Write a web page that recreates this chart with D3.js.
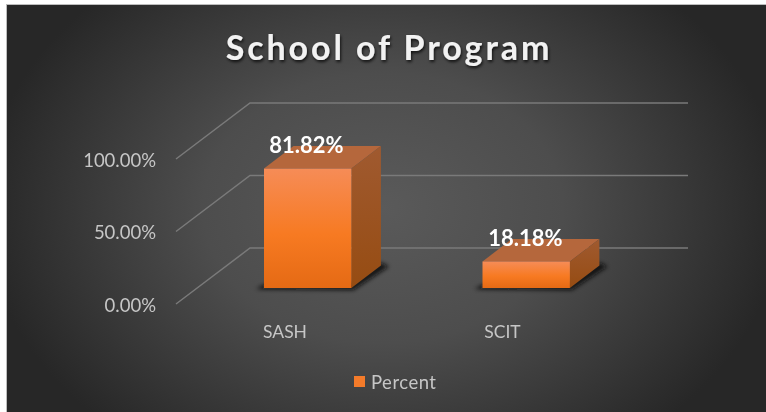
<!DOCTYPE html>
<html><head><meta charset="utf-8">
<script src="https://cdn.jsdelivr.net/npm/d3@7/dist/d3.min.js"></script>
<style>html,body{margin:0;padding:0;background:#fff}svg{display:block}text{font-family:Lato,"Open Sans",sans-serif}</style>
</head><body><svg id="c" width="766" height="412"></svg>
<script>
const categories = ["SASH", "SCIT"];
const percent = [81.82, 18.18];
const yTicks = [0, 50, 100];
const titleText = "School of Program";
const seriesName = "Percent";

const svg = d3.select("#c");
const defs = svg.append("defs");
const bg = defs.append("radialGradient").attr("id","bg").attr("gradientUnits","userSpaceOnUse")
  .attr("cx",383).attr("cy",208).attr("r",400).attr("gradientTransform","translate(383 208) scale(1 .75) translate(-383 -208)");
[[0,"#5a5a5a"],[.45,"#4d4d4d"],[1,"#272727"]].forEach(s=>bg.append("stop").attr("offset",s[0]).attr("stop-color",s[1]));
const front = defs.append("linearGradient").attr("id","front").attr("x1",0).attr("x2",0).attr("y1",0).attr("y2",1);
[[0,"#f68c57"],[.55,"#f77a22"],[1,"#e56a14"]].forEach(s=>front.append("stop").attr("offset",s[0]).attr("stop-color",s[1]));
const side = defs.append("linearGradient").attr("id","side").attr("x1",0).attr("x2",0).attr("y1",0).attr("y2",1);
[[0,"#a05a30"],[1,"#964c12"]].forEach(s=>side.append("stop").attr("offset",s[0]).attr("stop-color",s[1]));
defs.append("filter").attr("id","blur").attr("x","-20%").attr("y","-50%").attr("width","140%").attr("height","200%")
  .append("feGaussianBlur").attr("stdDeviation",2);
const ts = defs.append("filter").attr("id","ts").attr("x","-10%").attr("y","-30%").attr("width","120%").attr("height","170%");
ts.append("feDropShadow").attr("dx",1).attr("dy",2).attr("stdDeviation",1.5).attr("flood-color","#000").attr("flood-opacity",.75);
defs.append("filter").attr("id","soft").append("feGaussianBlur").attr("stdDeviation",.35);

svg.append("rect").attr("x",6.5).attr("y",4.5).attr("width",770).attr("height",420).attr("fill","url(#bg)").attr("stroke","#bdbdbd").attr("stroke-width",1);

const y = d3.scaleLinear().domain([0,100]).range([304,159]);
const floorDx = 74, floorDy = -56, wallRight = 688;
const grid = svg.append("g").attr("fill","none").attr("stroke","#7a7a7a").attr("stroke-width",1.5);
yTicks.forEach(t=>{
  const p = d3.path();
  p.moveTo(176,y(t)); p.lineTo(176+floorDx,y(t)+floorDy); p.lineTo(wallRight,y(t)+floorDy);
  grid.append("path").attr("d",p.toString());
});
const tickFmt = d3.format(".2f");
svg.append("g").selectAll("text").data(yTicks).join("text")
  .attr("x",156).attr("y",d=>y(d)+7.5).attr("text-anchor","end").attr("font-size",18.5).attr("fill","#c6c6c6").attr("filter","url(#soft)")
  .text(d=>tickFmt(d)+"%");

const x = d3.scaleBand().domain(categories).range([198.45,635.45]).paddingInner(.6).paddingOuter(.3);
const yBar = d3.scaleLinear().domain([0,100]).range([288,142]);
const dx = 29.5, dy = -22.5;
categories.forEach((c,i)=>{
  const g = svg.append("g");
  const bw = x.bandwidth();
  const x0 = x(c), x1 = x0+bw, t = yBar(percent[i]), b = yBar(0);
  g.append("path").attr("d",d3.line()([[x0-8,b+1],[x1+2,b+2],[x1+dx+8,b+dy+1],[x1+dx,b+dy-3],[x1,b-4],[x0,b-3]]))
    .attr("fill","#111").attr("opacity",.9).attr("filter","url(#blur)");
  g.append("path").attr("d",d3.line()([[x0,t],[x0+dx,t+dy],[x1+dx,t+dy],[x1,t]]) + "Z").attr("fill","#b5673c");
  g.append("path").attr("d",d3.line()([[x1,t],[x1+dx,t+dy],[x1+dx,b+dy],[x1,b]]) + "Z").attr("fill","url(#side)");
  g.append("rect").attr("x",x0).attr("y",t).attr("width",bw).attr("height",b-t).attr("fill","url(#front)");
  svg.append("text").attr("x",x0+(i?43:42.5)).attr("y",t-15.5).attr("text-anchor","middle").attr("font-size",22).attr("font-weight",700).attr("fill","#fff").attr("filter","url(#soft)")
    .text(d3.format(".2f")(percent[i])+"%");
  svg.append("text").attr("y",338).attr("text-anchor","middle").attr("font-size",17.5).attr("fill","#c6c6c6").attr("filter","url(#soft)")
    .attr("x",x0+(i?20:21)).text(c);
});

svg.append("text").attr("x",389).attr("y",60).attr("text-anchor","middle").attr("font-size",34).attr("font-weight",700)
  .attr("letter-spacing",2.9).attr("fill","#f2f2f2").attr("filter","url(#ts)").text(titleText);

svg.append("rect").attr("x",354).attr("y",376).attr("width",11).attr("height",11).attr("fill","#f47b2a");
svg.append("text").attr("x",371).attr("y",389).attr("font-size",18.5).attr("letter-spacing",.5).attr("fill","#c6c6c6").attr("filter","url(#soft)").text(seriesName);
</script></body></html>
